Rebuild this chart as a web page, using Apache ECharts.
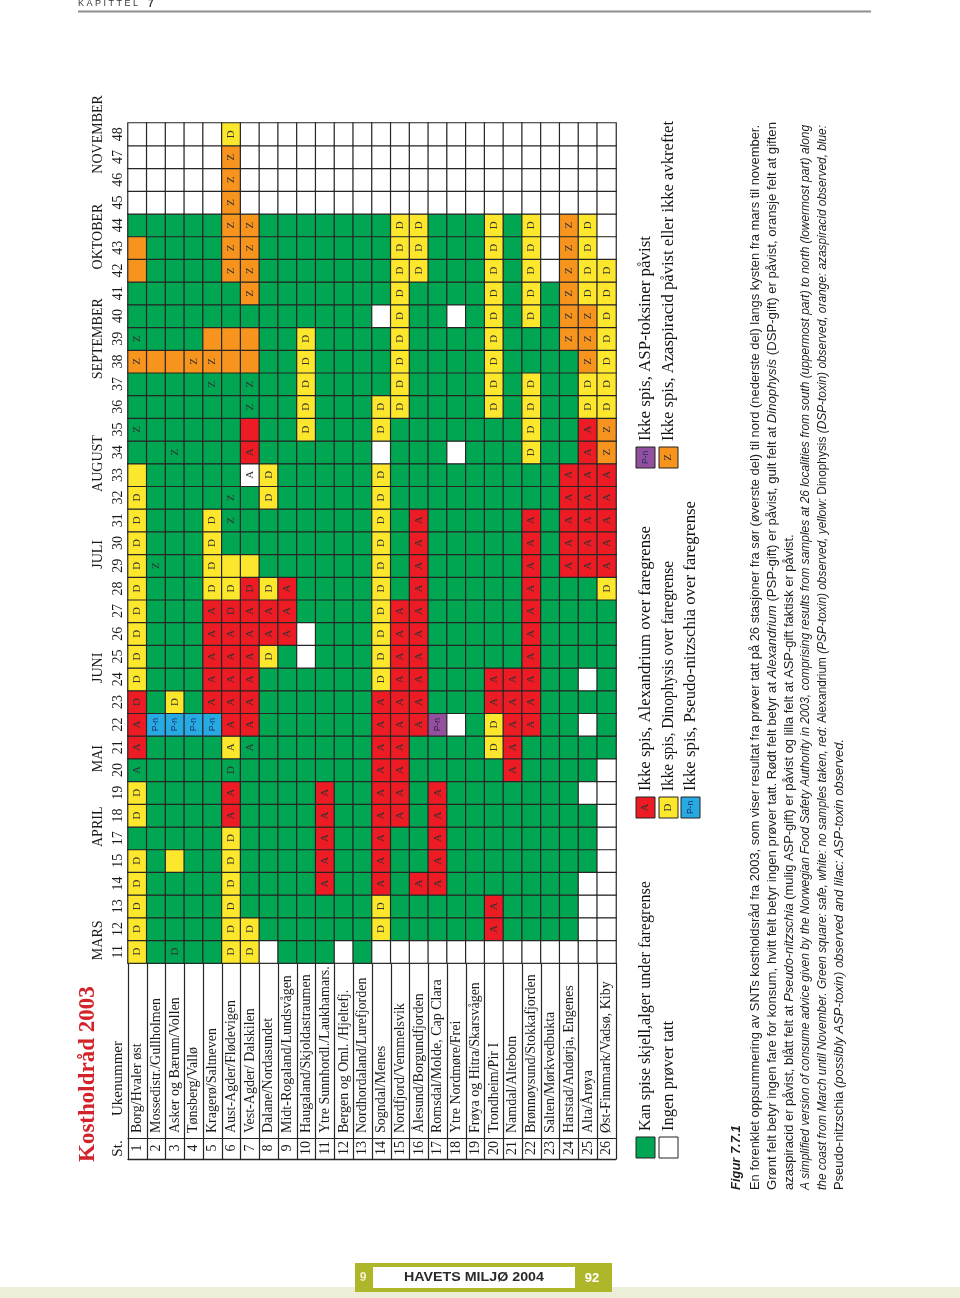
<!DOCTYPE html>
<html><head><meta charset="utf-8">
<script src="https://cdn.jsdelivr.net/npm/echarts@6/dist/echarts.min.js"></script>
<style>html,body{margin:0;padding:0;background:#fff}#c{width:960px;height:1298px}</style>
</head><body><div id="c"></div>
<script>
// ---------------- DATA ----------------
const weeks = ['11','12','13','14','15','17','18','19','20','21','22','23','24','25','26','27','28','29','30','31','32','33','34','35','36','37','38','39','40','41','42','43','44','45','46','47','48'];
const stationNo = ['1','2','3','4','5','6','7','8','9','10','11','12','13','14','15','16','17','18','19','20','21','22','23','24','25','26'];
const stationNames = ['Borg/Hvaler øst','Mossedistr./Gullholmen','Asker og Bærum/Vollen','Tønsberg/Vallø','Kragerø/Saltneven','Aust-Agder/Flødevigen','Vest-Agder/ Dalskilen','Dalane/Nordasundet','Midt-Rogaland/Lundsvågen','Haugaland/Skjoldastraumen','Ytre Sunnhordl./Laukhamars.','Bergen og Oml. /Hjeltefj.','Nordhordaland/Lurefjorden','Sogndal/Menes','Nordfjord/Vemmelsvik','Ålesund/Borgundfjorden','Romsdal/Molde, Cap Clara','Ytre Nordmøre/Frei','Frøya og Hitra/Skarsvågen','Trondheim/Pir I','Namdal/Altebotn','Brønnøysund/Stokkafjorden','Salten/Mørkvedbukta','Harstad/Andørja, Engenes','Alta/Årøya','Øst-Finnmark/Vadsø, Kiby'];
const monthNames = ['MARS','APRIL','MAI','JUNI','JULI','AUGUST','SEPTEMBER','OKTOBER','NOVEMBER'];
const monthWeeks = [['11','12'],['17','18'],['20','21'],['24','25'],['29','30'],['33','34'],['39','39'],['43','44'],['48','48']];
// cell codes per station, weeks 11..48 (no 16): g=green, w=white, r=red, y=yellow, o=orange, b=blue, l=lilac; mark A/D/Z/P(P-n)
const cellRows = [
'yD yD yD yD yD  g yD yD gA rA  rA rD yD yD yD  yD yD yD yD yD  yD y g gZ g  g oZ gZ g g  o o g w w  w w',
'g g g g g  g g g g g  bP g g g g  g g gZ g g  g g g g g  g o g g g  g g g w w  w w',
'gD g g g y  g g g g g  bP yD g g g  g g g g g  g g gZ g g  g o g g g  g g g w w  w w',
'g g g g g  g g g g g  bP g g g g  g g g g g  g g g g g  g oZ g g g  g g g w w  w w',
'g g g g g  g g g g g  bP rA rA rA rA  rA yD yD yD yD  g g g g g  gZ oZ o g g  g g g w w  w w',
'yD yD yD yD yD  yD rA rA gD yA  rA rA rA rA rA  rD yD y g gZ  gZ g g g g  g o o g g  oZ oZ oZ oZ oZ  oZ yD',
'yD yD g g g  g g g g gA  rA rA rA rA rA  rA rD y g g  g wA rA r gZ  gZ o o g oZ  oZ oZ oZ w w  w w',
'w g g g g  g g g g g  g g g yD rA  rA yD g g g  yD yD g g g  g g g g g  g g g w w  w w',
'g g g g g  g g g g g  g g g g rA  rA rA g g g  g g g g g  g g g g g  g g g w w  w w',
'g g g g g  g g g g g  g g g w w  g g g g g  g g g yD yD  yD yD yD g g  g g g w w  w w',
'g g g rA rA  rA rA rA g g  g g g g g  g g g g g  g g g g g  g g g g g  g g g w w  w w',
'w g g g g  g g g g g  g g g g g  g g g g g  g g g g g  g g g g g  g g g w w  w w',
'g g g g g  g g g g g  g g g g g  g g g g g  g g g g g  g g g g g  g g g w w  w w',
'w yD yD rA rA  rA rA rA rA rA  rA rA yD yD yD  yD yD yD yD yD  yD yD w yD yD  g g g w g  g g g w w  w w',
'w g g g g  g rA rA rA rA  rA rA rA rA rA  rA g g g g  g g g g yD  yD yD yD yD yD  yD yD yD w w  w w',
'w g g rA g  g g g g g  rA rA rA rA rA  rA rA rA rA rA  g g g g g  g g g g g  yD yD yD w w  w w',
'w g g rA rA  rA rA rA g g  lP g g g g  g g g g g  g g g g g  g g g g g  g g g w w  w w',
'w g g g g  g g g g g  w g g g g  g g g g g  g g w g g  g g g w g  g g g w w  w w',
'w g g g g  g g g g g  g g g g g  g g g g g  g g g g g  g g g g g  g g g w w  w w',
'w rA rA g g  g g g g yD  yD rA rA g g  g g g g g  g g g g yD  yD yD yD yD yD  yD yD yD w w  w w',
'w g g g g  g g g rA rA  rA rA rA g g  g g g g g  g g g g g  g g g g g  g g g w w  w w',
'w g g g g  g g g g g  rA rA rA rA rA  rA rA rA rA rA  g g yD yD yD  yD g g yD yD  yD yD yD w w  w w',
'w g g g g  g g g g g  g g g g g  g g g g g  g g g g g  g g g g g  w w w w w  w w',
'w g g g g  g g g g g  g g g g g  g g rA rA rA  rA rA g g g  g g oZ oZ oZ  oZ oZ oZ w w  w w',
'w w w w g  g g w g g  w g w g g  g g rA rA rA  rA rA rA rA yD  yD oZ oZ oZ yD  yD yD yD w w  w w',
'w w w w w  w w w w g  g g g g g  g yD rA rA rA  rA rA oZ oZ yD  yD yD yD yD yD  yD w w w w  w w'
];
const legendLabels = ['Kan spise skjell,alger under faregrense','Ingen prøver tatt','Ikke spis, Alexandrium over faregrense','Ikke spis, Dinophysis over faregrense','Ikke spis, Pseudo-nitzschia over faregrense','Ikke spis, ASP-toksiner påvist','Ikke spis, Azaspiracid påvist eller ikke avkreftet'];
const legendCodes = ['g','w','rA','yD','bP','lP','oZ'];
const captionLines = [
  [['Figur 7.7.1','b']],
  [['En forenklet oppsummering av SNTs kostholdsråd fra 2003, som viser resultat fra prøver tatt på 26 stasjoner fra sør (øverste del) til nord (nederste del) langs kysten fra mars til november.','n']],
  [['Grønt felt betyr ingen fare for konsum, hvitt felt betyr ingen prøver tatt. Rødt felt betyr at ','n'],['Alexandrium','i'],[' (PSP-gift) er påvist, gult felt at ','n'],['Dinophysis','i'],[' (DSP-gift) er påvist, oransje felt at giften','n']],
  [['azaspiracid er påvist, blått felt at ','n'],['Pseudo-nitzschia','i'],[' (mulig ASP-gift) er påvist og lilla felt at ASP-gift faktisk er påvist.','n']],
  [['A simplified version of consume advice given by the Norwegian Food Safety Authority in 2003, comprising results from samples at 26 localities from south (uppermost part) to north (lowermost part) along','i']],
  [['the coast from March until November. Green square: safe, white: no samples taken, red: ','i'],['Alexandrium','n'],[' (PSP-toxin) observed, yellow: ','i'],['Dinophysis','n'],[' (DSP-toxin) observed, orange: azaspiracid observed, blue:','i']],
  [['Pseudo-nitzschia','n'],[' (possibly ASP-toxin) observed and lilac: ASP-toxin observed.','i']]
];

// ---------------- STYLE ----------------
const SERIF = '"Liberation Serif", "Times New Roman", serif';
const SANS = '"Liberation Sans", Arial, sans-serif';
const colorKeys = ['g','w','r','y','o','b','l'];
const colorOf = {g:'#00a651', w:'#ffffff', r:'#ed1c24', y:'#fde72c', o:'#f7941d', b:'#27aae1', l:'#93509e'};
const markText = {A:'A', D:'D', Z:'Z', P:'P-n'};
const LINE = '#262626';
const LABEL_ROW = 175, LABEL_BOTTOM = 196;

const data = [];
cellRows.forEach((row, si) => {
  row.trim().split(/\s+/).forEach((t, wi) => {
    const c = t[0], m = t.slice(1);
    const item = { value: [si, wi, colorKeys.indexOf(c)] };
    if (m) {
      item.label = { show: true, formatter: markText[m] };
      if (m === 'P') { item.label.fontSize = 8.5; item.label.fontFamily = SANS; item.label.color = c === 'b' ? '#1d2d6a' : '#3b1846'; }
    } else item.label = { show: false };
    data.push(item);
  });
});

const chart = echarts.init(document.getElementById('c'), null, {renderer:'canvas', width:960, height:1298});
chart.setOption({
  animation: false,
  backgroundColor: '#ffffff',
  grid: { left:128, top:123, width:488, height:840, outerBoundsMode:'none' },
  visualMap: { type:'piecewise', show:false, dimension:2, seriesIndex:0,
    pieces: colorKeys.map((k,i) => ({ value:i, color:colorOf[k] })) },
  xAxis: [
    { type:'category', data: stationNames, position:'bottom',
      axisLine:{ show:true, lineStyle:{ color:LINE, width:1.2 } },
      axisTick:{ show:true, interval:0, length:LABEL_BOTTOM, lineStyle:{ color:LINE, width:1.2 } },
      axisLabel:{ interval:0, rotate:90, align:'left', verticalAlign:'middle', margin:LABEL_BOTTOM - 1,
        formatter:(v,i) => '{n|' + stationNo[i] + '}{t|' + v + '}',
        rich:{ n:{ width:20, align:'center', fontFamily:SERIF, fontSize:14, color:'#1a1a1a' },
               t:{ padding:[0,0,0,5], fontFamily:SERIF, fontSize:14, color:'#1a1a1a' } } },
      splitLine:{ show:false } },
    { type:'category', data: stationNames, position:'bottom', offset:LABEL_ROW,
      axisLine:{ show:true, lineStyle:{ color:LINE, width:1.2 } }, axisTick:{ show:false }, axisLabel:{ show:false } },
    { type:'category', data: stationNames, position:'bottom', offset:LABEL_BOTTOM,
      axisLine:{ show:true, lineStyle:{ color:LINE, width:1.4 } }, axisTick:{ show:false }, axisLabel:{ show:false } }
  ],
  yAxis: { type:'category', data: weeks,
    axisLine:{ show:false }, axisTick:{ show:false }, splitLine:{ show:false },
    axisLabel:{ interval:0, rotate:90, margin:3, fontFamily:SERIF, fontSize:14, color:'#1a1a1a' } },
  series: [{ type:'heatmap', data, xAxisIndex:0, yAxisIndex:0, progressive:0,
    itemStyle:{ borderColor:LINE, borderWidth:1.2 },
    label:{ show:true, rotate:90, fontFamily:SERIF, fontSize:11, color:'#333' },
    emphasis:{ disabled:true } }]
});

// ---------------- ANNOTATIONS ----------------
const mctx = document.createElement('canvas').getContext('2d');
function fontStr(s, size, fam) { return (s === 'i' ? 'italic ' : s === 'b' ? 'italic bold ' : '') + size + 'px ' + fam; }
function measure(segs, size, fam) { let w = 0; segs.forEach(([t,s]) => { mctx.font = fontStr(s, size, fam); w += mctx.measureText(t).width; }); return w; }
function richOf(segs) { return segs.map(([t,s]) => '{' + s + '|' + t + '}').join(''); }

const g = [];
const yOf = w => chart.convertToPixel({ yAxisIndex:0 }, weeks.indexOf(w));
const gridBottom = 963;

// title
g.push({ type:'text', x:88, y:1162, rotation:Math.PI/2, style:{ text:'Kostholdråd 2003', fontFamily:SERIF, fontWeight:'bold', fontSize:23, fill:'#d2232a', align:'left', verticalAlign:'middle' } });
// St. / Ukenummer
g.push({ type:'text', x:118, y:gridBottom + (LABEL_ROW + LABEL_BOTTOM) / 2, rotation:Math.PI/2, style:{ text:'St.', fontFamily:SERIF, fontSize:15, fill:'#1a1a1a', align:'center', verticalAlign:'middle' } });
g.push({ type:'text', x:118, y:gridBottom + LABEL_ROW - 22, rotation:Math.PI/2, style:{ text:'Ukenummer', fontFamily:SERIF, fontSize:15, fill:'#1a1a1a', align:'left', verticalAlign:'middle' } });
// months
monthNames.forEach((m, i) => {
  const y = (yOf(monthWeeks[i][0]) + yOf(monthWeeks[i][1])) / 2;
  g.push({ type:'text', x:98, y, rotation:Math.PI/2, style:{ text:m, fontFamily:SERIF, fontSize:14, fill:'#1a1a1a', align:'center', verticalAlign:'middle' } });
});

// legend
const legCol = [645.5, 668.5, 690.5];
const legTop = [1137, 797, 447];
const legPos = [[0,0],[1,0],[0,1],[1,1],[2,1],[0,2],[1,2]];
const legLen = [250, 110, 265, 230, 290, 205, 320];
legendCodes.forEach((code, i) => {
  const [ci, gi] = legPos[i];
  const cx = legCol[ci], top = legTop[gi];
  g.push({ type:'rect', shape:{ x:cx - 9.5, y:top, width:19, height:21 }, style:{ fill:colorOf[code[0]], stroke:'#222', lineWidth:1 } });
  const mk = code.slice(1);
  if (mk) g.push({ type:'text', x:cx, y:top + 10.5, rotation:Math.PI/2, style:{ text:markText[mk], fontFamily: mk === 'P' ? SANS : SERIF, fontSize: mk === 'P' ? 8.5 : 11, fill: mk === 'P' ? '#1d2d6a' : '#333', align:'center', verticalAlign:'middle' } });
  const segs = [[legendLabels[i], 'n']];
  const sc = legLen[i] / measure(segs, 16, SERIF);
  g.push({ type:'text', x:cx, y:top - 6, rotation:Math.PI/2, scaleX:sc, style:{ text:legendLabels[i], fontFamily:SERIF, fontSize:16, fill:'#111', align:'left', verticalAlign:'middle' } });
});

// caption
const capX = [737, 756, 773, 790, 806, 823, 840];
const capLen = [null, 1065, 1068, null, 1065, 1065, null];
const CAP_SIZE = 12.5;
const baseScale = 1065 / measure(captionLines[1], CAP_SIZE, SANS);
captionLines.forEach((segs, i) => {
  const sc = capLen[i] ? capLen[i] / measure(segs, CAP_SIZE, SANS) : baseScale;
  g.push({ type:'text', x:capX[i], y:1190, rotation:Math.PI/2, scaleX:sc,
    style:{ text:richOf(segs), fontFamily:SANS, fontSize:CAP_SIZE, fill:'#1e1e1e', align:'left', verticalAlign:'middle',
      rich:{ n:{ fontFamily:SANS, fontSize:CAP_SIZE, fill:'#1e1e1e' }, i:{ fontFamily:SANS, fontSize:CAP_SIZE, fontStyle:'italic', fill:'#1e1e1e' }, b:{ fontFamily:SANS, fontSize:CAP_SIZE, fontStyle:'italic', fontWeight:'bold', fill:'#1e1e1e' } } } });
});

// header
g.push({ type:'text', x:78, y:4, style:{ text:'K A P I T T E L', fontFamily:SANS, fontSize:9, fill:'#333', align:'left', verticalAlign:'middle' } });
g.push({ type:'text', x:148, y:4, style:{ text:'7', fontFamily:SANS, fontSize:10, fontWeight:'bold', fill:'#333', align:'left', verticalAlign:'middle' } });
g.push({ type:'line', shape:{ x1:78, y1:11.5, x2:871, y2:11.5 }, style:{ stroke:'#8e8e8e', lineWidth:2 } });

// footer
g.push({ type:'rect', shape:{ x:0, y:1287, width:960, height:11 }, style:{ fill:'#eceed8' } });
g.push({ type:'rect', shape:{ x:355, y:1263, width:257, height:29 }, style:{ fill:'#aeb62a' } });
g.push({ type:'rect', shape:{ x:373, y:1267, width:202, height:21 }, style:{ fill:'#ffffff' } });
g.push({ type:'text', x:474, y:1278, scaleX:1.14, style:{ text:'HAVETS MILJØ 2004', fontFamily:SANS, fontSize:12.5, fontWeight:'bold', fill:'#2a2a2a', align:'center', verticalAlign:'middle' } });
g.push({ type:'text', x:592, y:1278, style:{ text:'92', fontFamily:SANS, fontSize:13, fontWeight:'bold', fill:'#ffffff', align:'center', verticalAlign:'middle' } });
g.push({ type:'text', x:363, y:1278, style:{ text:'9', fontFamily:SANS, fontSize:12, fontWeight:'bold', fill:'#f3f0d0', align:'center', verticalAlign:'middle' } });

chart.setOption({ graphic: { elements: g } });
</script>
</body></html>
